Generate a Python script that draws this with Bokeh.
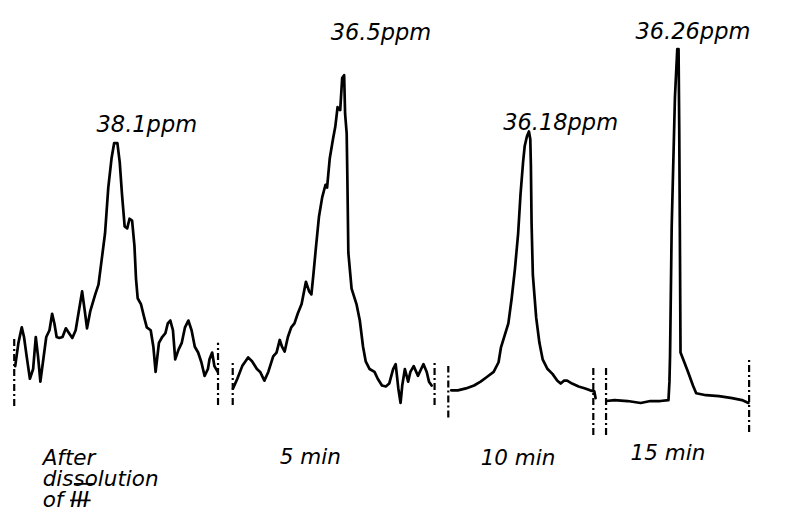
from bokeh.plotting import figure
from bokeh.models import Range1d
from bokeh.core.properties import value
from bokeh.embed import file_html
from bokeh.resources import INLINE

# ---- data: pen traces (x = paper position, y = deflection) ----
spec1_x = [15, 18.3, 21.7, 24, 26.7, 30, 33.3, 36, 38.3, 40.7, 43.3, 46.7, 50, 52.7, 55, 57.3, 60, 63.3,
           66.7, 70, 73.3, 76.7, 80, 83.3, 86, 88.3, 91.7, 96.7, 100, 103.3, 106.7, 110, 113.3, 116, 119.3,
           121.7, 124, 126.7, 129.3, 131.7, 134.3, 136.7, 138.3, 140, 143.3, 146.7, 149.3, 153.3, 156, 158.3,
           161.7, 165, 168.3, 170.7, 173.3, 176, 178.3, 181.7, 185, 188.3, 191.7, 195, 198.3, 201.7, 205,
           208.3, 211.7, 213.3, 216, 218.3, 221.7]
spec1_y = [153, 177, 193, 183, 163, 140, 150, 183, 163, 137, 157, 183, 190, 207, 197, 183, 182, 183,
           192, 187, 182, 190, 210, 230, 210, 192, 210, 227, 237, 263, 290, 337, 367, 383, 383,
           363, 330, 297, 295, 305, 303, 277, 243, 223, 217, 203, 193, 190, 173, 147,
           177, 183, 187, 197, 200, 190, 160, 170, 177, 193, 200, 190, 173, 167, 157,
           143, 150, 160, 167, 153, 147]

spec2_x = [237.3, 241.7, 246.7, 252.7, 256.7, 261.7, 265, 269.3, 273.3, 278.3, 281.7, 285, 287.3, 290,
           293.3, 296.7, 300, 303.3, 307.3, 311.7, 315, 317.3, 319.3, 321.7, 325, 328.3, 331.7, 333.3, 336,
           339.3, 341.7, 344, 346.7, 348.7, 350.7, 351.7, 353.3, 354, 355, 358.3, 363.3, 366.7, 370, 372.7,
           376.7, 381.7, 385, 389.3, 393.3, 396.7, 400.7, 403.3, 406, 408.3, 410, 412.7, 416, 418.3, 421.7,
           426, 429.3, 431.7, 435, 437.3, 440]
spec2_y = [130, 140, 153, 162, 158, 150, 147, 138, 147, 163, 167, 180, 173, 168,
           183, 193, 197, 207, 217, 240, 230, 227, 247, 273, 307, 327, 340, 337, 367,
           387, 400, 420, 417, 450, 453, 413, 393, 347, 270, 233, 217, 200, 173, 158,
           150, 147, 140, 133, 132, 135, 150, 155, 130, 115, 133, 150, 137, 147, 153,
           143, 150, 155, 147, 137, 133]

spec3_x = [460, 466.7, 475, 483.3, 490, 496.7, 503.3, 508.3, 510.7, 514, 518.3, 521.7, 525, 528.3, 530.7,
           533.3, 535, 537.3, 539.3, 540.7, 541.3, 542, 543.3, 546.7, 550, 553.3, 558.3, 563.3, 568.3,
           571.7, 575, 578.3, 583.3, 590, 596.7, 601.7, 606, 607.3]
spec3_y = [128, 128, 130, 133, 137, 142, 147, 157, 172, 183, 197, 223, 253, 290, 330,
           363, 380, 390, 395, 387, 360, 300, 247, 203, 177, 160, 150, 145, 138,
           135, 138, 138, 135, 132, 130, 128, 127, 120]

spec4_x = [618.3, 626.7, 640, 653.3, 663.3, 673.3, 681.7, 682.7, 683.3, 685, 688.3, 690.7, 692, 692.7,
           693.3, 694, 696.7, 701.7, 706.7, 710, 720, 733.3, 746.7, 756.7, 763.3]
spec4_y = [117, 118, 117, 115, 117, 117, 118, 137, 163, 297, 430, 480, 480, 397,
           297, 167, 160, 147, 133, 125, 123, 122, 120, 118, 115]

# sweep limit markers (paper position, lower end, upper end)
mark_x = [14, 222, 237, 443, 457, 605, 618, 764]
mark_lo = [112, 113, 113, 113, 100, 82, 82, 85]
mark_hi = [182, 177, 158, 158, 153, 152, 152, 162]

peak_labels = ["38.1ppm", "36.5ppm", "36.18ppm", "36.26ppm"]
time_labels = ["5 min", "10 min", "15 min"]
first_label = ["After", "dissolution", "of III"]

# ---- layout ----
peak_lx = [98, 337, 513, 648]
peak_ly = [403, 498, 405, 499]
time_lx = [285, 490, 643]
time_ly = [60, 59, 64]
first_lx = 43
first_ly = [59, 37, 15]

p = figure(width=778, height=514, output_backend="svg", toolbar_location=None,
           x_range=Range1d(0, 794), y_range=Range1d(0, 530), min_border=0)
p.axis.visible = False
p.grid.visible = False
p.outline_line_color = None
p.background_fill_color = "white"
p.border_fill_color = "white"

for xs, ys in [(spec1_x, spec1_y), (spec2_x, spec2_y), (spec3_x, spec3_y), (spec4_x, spec4_y)]:
    p.line(xs, ys, line_color="black", line_width=2.7, line_join="round", line_cap="round")

p.segment(x0=mark_x, y0=mark_lo, x1=mark_x, y1=mark_hi, line_color="black",
          line_width=2.2, line_dash="7 3 2 3")

font = value("DejaVu Sans")
p.text(x=peak_lx, y=peak_ly, text=peak_labels, text_font=font, text_font_size="22.5px",
       text_font_style="italic", text_color="black", text_baseline="alphabetic", text_align="left")
p.text(x=time_lx, y=time_ly, text=time_labels, text_font=font, text_font_size="21.5px",
       text_font_style="italic", text_color="black", text_baseline="alphabetic", text_align="left")
p.text(x=[first_lx] * 3, y=first_ly, text=first_label, text_font=font, text_font_size="21.5px",
       text_font_style="italic", text_color="black", text_baseline="alphabetic", text_align="left")

# over/under bars of the Roman numeral
rn_x0 = first_lx + 28
rn_x1 = first_lx + 49
p.segment(x0=[rn_x0 + 4, rn_x0], y0=[first_ly[2] + 16.5, first_ly[2] - 0.5],
          x1=[rn_x1 + 4, rn_x1], y1=[first_ly[2] + 16.5, first_ly[2] - 0.5],
          line_color="black", line_width=1.8)

open("out.html", "w").write(file_html(p, INLINE))
